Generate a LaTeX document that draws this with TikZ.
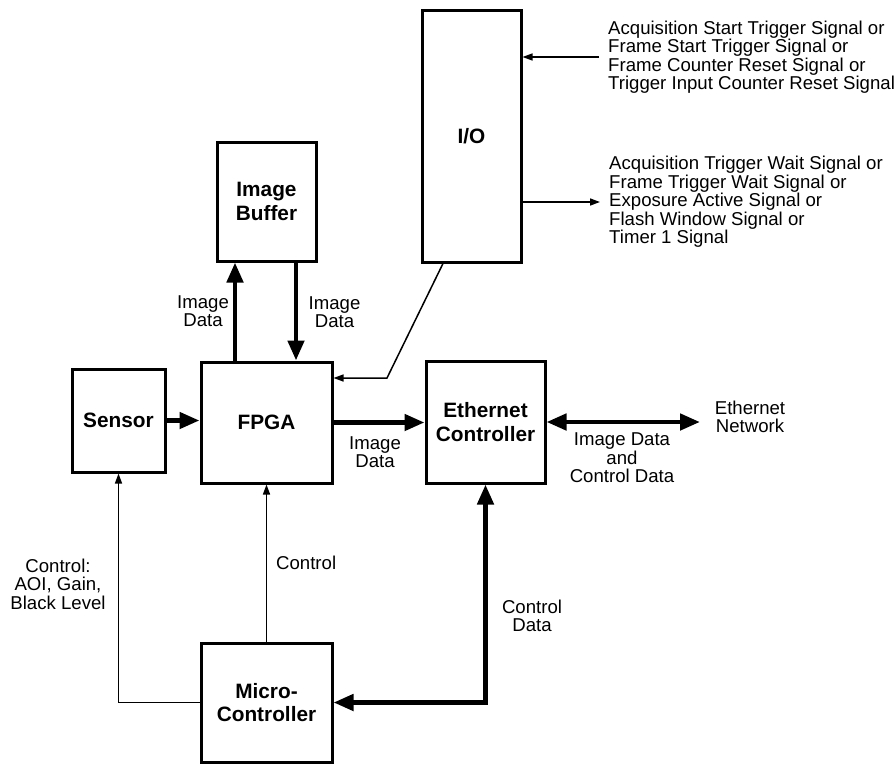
\documentclass[tikz,border=0pt]{standalone}
\usepackage{fontspec}
\setmainfont{Liberation Sans}
\usepackage{tikz}
\usetikzlibrary{arrows.meta,positioning,calc}
\tikzset{
  blk/.style={draw,line width=3pt,inner sep=2pt,align=center,
    font=\bfseries\fontsize{20.8}{23.3}\selectfont},
  note/.style={inner sep=0pt,align=center,font=\fontsize{18.6}{18.5}\selectfont},
  sigtext/.style={note,align=left,inner xsep=9pt},
  arr/.style={-{Triangle[length=20pt,width=16pt]},line width=4.6pt},
  sig/.style={-{Triangle[length=10pt,width=7pt]},line width=1.5pt},
}

\begin{document}
\begin{tikzpicture}[x=1pt,y=-1pt]
\useasboundingbox (0,0) rectangle (896,763);
% blocks
\node[blk,minimum width=93pt,minimum height=103pt] (sensor) at (118.5,420.5) {Sensor};
\node[blk,minimum width=131pt,minimum height=121pt] (fpga) at (266.5,422.5) {FPGA};
\node[blk,minimum width=99pt,minimum height=119pt] (buf) at (266.5,201.5) {Image\\Buffer};
\node[blk,minimum width=119pt,minimum height=122pt] (eth) at (485.5,422) {Ethernet\\Controller};
\node[blk,minimum width=131pt,minimum height=119pt] (micro) at (266.5,702.5) {Micro-\\Controller};
\node[blk,minimum width=99pt,minimum height=252pt] (io) at (471.5,136) {I/O};
% I/O signals
\node[sigtext,anchor=west] (sigin) at (599,57) {Acquisition Start Trigger Signal or\\Frame Start Trigger Signal or\\Frame Counter Reset Signal or\\Trigger Input Counter Reset Signal};
\node[sigtext,anchor=west] (sigout) at (600,202) {Acquisition Trigger Wait Signal or\\Frame Trigger Wait Signal or\\Exposure Active Signal or\\Flash Window Signal or\\Timer 1 Signal};
\draw[sig] (sigin.west) -- (sigin.west -| io.east);
\draw[sig] (sigout.west -| io.east) -- (sigout.west);
\draw[sig] ([xshift=-28.5pt]io.south) -- (387,378) -- (fpga.east |- 0,378);
% data paths
\draw[arr] (fpga.north -| 235,0) -- (buf.south -| 235,0);
\draw[arr] (buf.south -| 296,0) -- (fpga.north -| 296,0);
\draw[arr] (sensor.east) -- (sensor.east -| fpga.west);
\draw[arr] (fpga.east) -- (fpga.east -| eth.west);
\coordinate (netend) at (700,422);
\draw[arr,{Triangle[length=20pt,width=16pt]}-{Triangle[length=20pt,width=16pt]}] (eth.east) -- (netend);
\draw[arr,{Triangle[length=20pt,width=16pt]}-{Triangle[length=20pt,width=16pt]}] (micro.east) -| (eth.south);
% control paths
\draw[sig] (micro.west) -| (sensor.south);
\draw[sig] (micro.north) -- (fpga.south);
% labels
\node[note] (lbup) at (203,311) {Image\\Data};
\node[note] (lbdown) at (334.5,312) {Image\\Data};
\node[note] (lbeth) at (375,452) {Image\\Data};
\node[note] (lbnet) at (622,458) {Image Data\\and\\Control Data};
\node[note] (net) at (750,417) {Ethernet\\Network};
\node[note,anchor=west] (lbctl) at (276,563) {Control};
\node[note] (lbsens) at (58,584) {Control:\\AOI, Gain,\\Black Level};
\node[note] (lbcd) at (532,616) {Control\\Data};
\end{tikzpicture}
\end{document}
